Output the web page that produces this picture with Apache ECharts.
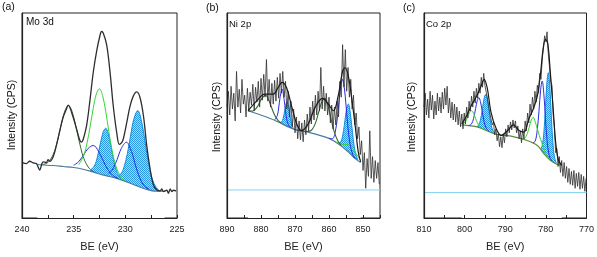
<!DOCTYPE html>
<html><head><meta charset="utf-8">
<script src="https://cdn.jsdelivr.net/npm/echarts@6/dist/echarts.min.js"></script>
<style>html,body{margin:0;padding:0;background:#fff}#chart{width:597px;height:257px}</style>
</head><body><div id="chart"></div>
<script>
// ---------- text ----------
const panelLetters = ['(a)', '(b)', '(c)'];
const panelTitles = ['Mo 3d', 'Ni 2p', 'Co 2p'];
const xTitle = 'BE (eV)';
const yTitle = 'Intensity (CPS)';
const moTicks = [240, 235, 230, 225];
const niTicks = [890, 880, 870, 860, 850];
const coTicks = [810, 800, 790, 780, 770];

// ---------- (a) Mo 3d ----------
const moDataBE = [239.97,239.58,239.26,238.93,238.61,238.45,238.28,238.12,237.96,237.64,237.48,237.31,236.99,236.67,236.34,236.02,235.7,235.53,235.37,235.05,234.72,234.4,234.24,234.08,233.75,233.43,233.11,232.78,232.46,232.3,232.14,231.81,231.49,231.17,230.84,230.58,230.36,230.19,229.87,229.55,229.22,228.9,228.58,228.25,227.93,227.61,227.28,226.96,226.63,226.47,226.31,225.99,225.83,225.66,225.5,225.34,225.08];
const moDataCPS = [56,55,57.3,55.7,55,51.7,48.3,53.3,56.7,56,59,57.3,61.7,73.3,88.3,101.7,110,114,111.7,101.7,90,78.3,76.7,79.3,93.3,118.3,146.7,168.3,184,188.3,186.7,175,148.3,113.3,86.7,74.3,76,80,96,112.7,123.3,127.3,121.7,103.3,73.3,50,33.3,28.3,27.3,29.3,26.7,28,25,29.3,26.7,28,27.3];
const moBgBE = [238.5,238,237,236,235,234,233,232,231,230,229,228,227,226.5,226.2];
const moBgCPS = [54,53.5,53,52,51,49,46,43,40.5,37,33,29,27,27,27];
const moGreen1BE = [238,237.5,237,236.7,236.4,236.1,235.8,235.5,235.2,234.9,234.6,234.3,234,233.5,233];
const moGreen1CPS = [54,56,63.7,72.6,85.3,98.9,109.6,113.5,109,97.7,83.6,70.2,59.7,50.2,46.5];
const moGreen2BE = [234.5,234,233.7,233.4,233.1,232.8,232.5,232.2,231.9,231.6,231.3,231,230.5,230];
const moGreen2CPS = [53.8,63.8,76,92.7,111.3,125.4,130.5,123.6,107.8,87.5,69,55.3,42.6,37.6];
const moBlue1BE = [235,234.5,234,233.6,233.1,232.6,232.2,231.7,231.2,230.7];
const moBlue1CPS = [53.2,57,64.4,70.2,73.3,67.5,59,49,42.9,40];
const moBlue2BE = [231.6,231.2,230.8,230.4,229.9,229.4,229,228.6,228.2,227.7];
const moBlue2CPS = [44.8,49.6,58.9,70,76.6,67,52.5,40.4,32.8,29];
const moCyan1BE = [233.4,233,232.7,232.4,232.15,231.9,231.65,231.4,231.1,230.8,230.4];
const moCyan1CPS = [48.1,52.5,61.8,76,86.7,90.7,85.3,73,57,45.9,39.4];
const moCyan2BE = [230.6,230.2,229.8,229.5,229.2,228.8,228.4,228.1,227.8,227.4,227,226.6];
const moCyan2CPS = [42.3,49.2,65.2,82.6,99,108.5,96,77.4,58,39.5,30.6,27];

// ---------- (b) Ni 2p ----------
const niStartBE = 890, niStepBE = -0.4; // measurement energy grid
const niDataCPS = [112,128,104,133,110,126,98,148,112,130,106,140,115,124,102,131,109,127,114,135,108,132,117,138,112,141,119,145,122,160,118,140,112,136,115,139,118,142,121,146,126,148,122,138,110,128,102,118,92,110,86,102,80,98,79,96,77,99,84,105,88,112,95,118,99,124,104,128,108,152,110,133,108,126,104,122,96,114,90,112,94,118,102,138,122,175,132,170,128,152,122,140,110,124,94,106,80,92,64,78,48,66,30,60,42,88,40,62,36,58,40,56,34];
const niFitBE = [883.8,881.3,878.9,876.4,875,873.8,872.5,871,869.5,868.1,866.1,864.1,861.9,860.2,858.7,857.3,856,855.3,854.3,853.3,852.3,851.4,850.7];
const niFitCPS = [108.3,118,125,125,131.7,137,131.7,113,95,88.3,95,111.7,120.7,115,108.3,123.3,148.3,151.7,143.3,120,93.3,66.7,56.7];
const niBgBE = [883.8,876.9,870,866.1,860.2,857.3,854.3,852.3,850.7];
const niBgCPS = [108.3,100,89.3,86.7,80.7,75,66.7,60,56];
const niGreen1BE = [883.8,883,882,881,880,879,878.7,878,877,876,875,874];
const niGreen1CPS = [108.4,107.9,108.7,112.7,119.5,123.6,124.1,121.3,112.6,103.9,98.6,95.8];
const niGreen2BE = [867,866,865,864,863,862,861.3,860.5,859.5,858.5,857.5,856.5];
const niGreen2CPS = [87.4,87.5,89.3,95.6,107.3,118.3,120.8,115.7,101.6,87.4,78.6,73.5];
const niGreen3BE = [858,857,856,855,854,853,852,851,850.7];
const niGreen3CPS = [76.8,75.3,74.4,74.3,73.6,70,64.8,59.8,58.4];
const niBlue1BE = [876,875.2,874.8,874.4,873.8,873.2,872.8,872.4,871.8,871.2];
const niBlue1CPS = [99.1,103.5,111.1,121.5,130.2,119.7,108.1,99.1,93.1,91.3];
const niBlue2BE = [860,859,858.2,857.5,857,856.5,856,855.5,855,854.5,853.8,853,852.3];
const niBlue2CPS = [80.6,80,86.1,102.5,119.6,134.7,140,131.9,114,94.3,74.2,64,60];
const niCyan1BE = [874.6,874,873.5,873,872.6,872.3,872,871.6,871.1,870.6,870.2];
const niCyan1CPS = [96.4,96.8,100.3,108.8,115.7,117.3,114.7,106.6,96.6,91.5,89.6];
const niCyan2BE = [857.2,856.5,856,855.5,855,854.6,854.3,854,853.6,853.1,852.6,852.1,851.5];
const niCyan2CPS = [75.8,77.1,82.8,93.5,106.4,113.7,115,112.1,102.4,86.4,72.4,63.9,58.8];
const niRefBE = [890, 845];
const niRefCPS = [28.3, 28.3];

// ---------- (c) Co 2p ----------
const coStartBE = 810, coStepBE = -0.3; // measurement energy grid
const coDataCPS = [112,126,104,120,101,128,109,124,100,118,104,126,108,122,106,127,110,131,114,133,106,121,101,117,99,115,97,112,94,108,92,105,90,106,95,112,101,118,108,123,112,128,116,131,121,136,126,142,132,146,134,133,121,122,106,108,94,97,84,90,78,85,72,82,71,85,76,90,82,94,86,97,89,99,91,98,86,93,80,88,76,90,80,98,88,106,96,115,104,122,110,128,117,134,126,146,140,160,158,184,178,188,166,164,138,134,104,92,66,70,52,62,46,58,42,56,40,52,36,50,34,47,33,48,30,45,32,46,29,44,30,42,27,40];
const coFitBE = [800.7,799.5,798.3,797.1,796,795.2,794.4,793.5,792.2,791,789.4,788,786.6,785.4,784.2,783.1,782.1,781.3,780.7,780.1,779.5,778.9,778.2,777.6,776.9,776.1];
const coFitCPS = [95,103.3,114,122.7,132.7,140,130.7,106.7,90,83.3,88.3,94,88.3,86.7,100,110,123.3,146.7,170,180.7,175,146.7,110,76.7,58.3,53.3];
const coBgBE = [800.7,796.7,792.6,788.6,784.6,782.1,780.5,778.9,777.3,776.1];
const coBgCPS = [94,91.7,85,82.7,78.3,73.3,65,58.3,54.3,53.3];
const coGreen1BE = [800.7,800,799.5,799,798.6,798.3,798,797.6,797.1,796.6,796,795.4];
const coGreen1CPS = [94,96.2,99.7,104.6,107.7,108.3,107.3,103.8,98.3,94.1,91.2,89.6];
const coGreen2BE = [785.8,785.2,784.6,784.1,783.6,783.1,782.6,782.1,781.6,781,780.4,779.8,779];
const coGreen2CPS = [79.9,80.6,84.9,91.5,98.9,101.7,96.7,90,83,76,69,63,59];
const coBlue1BE = [799,798.3,797.8,797.3,796.9,796.5,796.1,795.7,795.2,794.7,794];
const coBlue1CPS = [93.2,95,100.4,110.4,118.4,121.7,117.5,108.5,97.3,90.8,87.5];
const coBlue2BE = [783.2,782.6,782.1,781.7,781.3,780.9,780.5,780.1,779.7,779.2,778.6];
const coBlue2CPS = [75.8,77.8,89.7,107.7,129.1,138.3,125.4,100.4,78.1,63.3,57.7];
const coCyan1BE = [797.2,796.6,796.1,795.6,795.2,794.8,794.4,794,793.5,793,792.4];
const coCyan1CPS = [92.1,93.5,98.9,110.5,120.8,125,119.5,107.9,94.6,87.7,85.1];
const coCyan2BE = [781.4,780.9,780.5,780.1,779.75,779.4,779.05,778.7,778.3,777.9,777.4];
const coCyan2CPS = [68.6,73.1,85.7,111.8,136.5,146.7,133.6,106,77.2,61.6,55.3];
const coRefBE = [810, 770];
const coRefCPS = [25.7, 25.7];

// ---------- helpers ----------
const zip = (xs, ys) => ys.map((y, i) => [xs[i], y]);
const grid = (start, step, ys) => ys.map((y, i) => [+(start + step * i).toFixed(2), y]);

const pat = document.createElement('canvas');
pat.width = 2; pat.height = 2;
const pc = pat.getContext('2d');
pc.fillStyle = '#a6d9f6'; pc.fillRect(0, 0, 2, 2);
pc.fillStyle = '#2a97e2'; pc.fillRect(0, 0, 1, 1); pc.fillRect(1, 1, 1, 1);

const FONT = 'Liberation Sans, Arial, Helvetica, sans-serif';
const C = {
  data: '#2e2e2e', fit: '#1a1a1a', bg: '#4b7b9e', green: '#33d633', dkgreen: '#356b35',
  blue: '#2a2ae6', cyan: '#0f8ee0', ref: '#86d2ef', axis: '#222222'
};

function line(idx, data, color, width, z, extra) {
  return Object.assign({
    type: 'line', xAxisIndex: idx, yAxisIndex: idx, data: data, symbol: 'none',
    smooth: false, z: z, silent: true, animation: false,
    lineStyle: { color: color, width: width }
  }, extra || {});
}
function smoothLine(idx, data, color, width, z) {
  return line(idx, data, color, width, z, { smooth: 0.35 });
}
function fill(idx, data) {
  return line(idx, data, C.cyan, 1, 1, {
    smooth: 0.35,
    areaStyle: { color: { image: pat, repeat: 'repeat' }, opacity: 1 }
  });
}
function mask(idx, data) {
  return line(idx, data, '#ffffff', 0, 2, {
    smooth: 0.3, areaStyle: { color: '#ffffff', opacity: 1 }
  });
}

const grids = [
  { left: 22, top: 13, width: 155, height: 207 },
  { left: 227, top: 13, width: 153, height: 207 },
  { left: 424, top: 13, width: 164, height: 207 }
].map(g => Object.assign(g, { show: true, borderColor: C.axis, borderWidth: 1, containLabel: false }));

const xSpec = [
  { min: 225, max: 240, interval: 2.5, ticks: moTicks },
  { min: 845, max: 890, interval: 5, ticks: niTicks },
  { min: 770, max: 810, interval: 5, ticks: coTicks }
];
const xAxes = xSpec.map((s, i) => ({
  gridIndex: i, type: 'value', min: s.min, max: s.max, interval: s.interval, inverse: true, z: 10,
  axisLine: { show: true, lineStyle: { color: C.axis, width: 1 } },
  axisTick: { show: true, inside: true, length: 3, lineStyle: { color: C.axis } },
  axisLabel: { margin: 7, fontSize: 9, color: '#222', fontFamily: FONT,
    formatter: v => (s.ticks.indexOf(v) >= 0 ? String(v) : '') },
  splitLine: { show: false },
  name: xTitle, nameLocation: 'middle', nameGap: 23,
  nameTextStyle: { fontSize: 11, color: '#222', fontFamily: FONT }
}));
const yAxes = [0, 1, 2].map(i => ({
  gridIndex: i, type: 'value', min: 0, max: 207, z: 10,
  axisLine: { show: true, lineStyle: { color: C.axis, width: 1.2 } },
  axisTick: { show: false }, axisLabel: { show: false }, splitLine: { show: false }
}));

const series = [
  // (a)
  fill(0, zip(moCyan1BE, moCyan1CPS)),
  fill(0, zip(moCyan2BE, moCyan2CPS)),
  mask(0, zip(moBgBE, moBgCPS)),
  smoothLine(0, zip(moBgBE, moBgCPS), C.bg, 1.2, 3),
  smoothLine(0, zip(moBlue1BE, moBlue1CPS), C.blue, 1, 3),
  smoothLine(0, zip(moBlue2BE, moBlue2CPS), C.blue, 1, 3),
  smoothLine(0, zip(moGreen1BE, moGreen1CPS), C.dkgreen, 1, 3),
  smoothLine(0, zip(moGreen2BE, moGreen2CPS), C.green, 1, 3),
  smoothLine(0, zip(moDataBE, moDataCPS), C.data, 1.3, 5),
  // (b)
  fill(1, zip(niCyan1BE, niCyan1CPS)),
  fill(1, zip(niCyan2BE, niCyan2CPS)),
  mask(1, zip(niBgBE, niBgCPS)),
  line(1, zip(niRefBE, niRefCPS), C.ref, 1, 3),
  smoothLine(1, zip(niBgBE, niBgCPS), C.bg, 1.2, 3),
  smoothLine(1, zip(niGreen3BE, niGreen3CPS), C.green, 1, 3),
  smoothLine(1, zip(niBlue1BE, niBlue1CPS), C.blue, 1, 3),
  smoothLine(1, zip(niBlue2BE, niBlue2CPS), C.blue, 1, 3),
  smoothLine(1, zip(niGreen1BE, niGreen1CPS), C.dkgreen, 1.1, 3),
  smoothLine(1, zip(niGreen2BE, niGreen2CPS), C.dkgreen, 1.1, 3),
  line(1, grid(niStartBE, niStepBE, niDataCPS), C.data, 0.8, 4),
  smoothLine(1, zip(niFitBE, niFitCPS), C.fit, 1.2, 5),
  // (c)
  fill(2, zip(coCyan1BE, coCyan1CPS)),
  fill(2, zip(coCyan2BE, coCyan2CPS)),
  mask(2, zip(coBgBE, coBgCPS)),
  line(2, zip(coRefBE, coRefCPS), C.ref, 1, 3),
  smoothLine(2, zip(coBgBE, coBgCPS), '#5e8a3a', 1.2, 3),
  smoothLine(2, zip(coBlue1BE, coBlue1CPS), C.blue, 1, 3),
  smoothLine(2, zip(coBlue2BE, coBlue2CPS), C.blue, 1, 3),
  smoothLine(2, zip(coGreen1BE, coGreen1CPS), C.green, 1, 3),
  smoothLine(2, zip(coGreen2BE, coGreen2CPS), C.green, 1, 3),
  line(2, grid(coStartBE, coStepBE, coDataCPS), C.data, 0.8, 4),
  smoothLine(2, zip(coFitBE, coFitCPS), C.fit, 1.2, 5)
];

const txt = (x, y, text, size, extra) => Object.assign({
  type: 'text', x: x, y: y, silent: true, z: 20,
  style: { text: text, font: size + 'px ' + FONT, fill: '#111', textAlign: 'left', textVerticalAlign: 'top',
           align: 'left', verticalAlign: 'top' }
}, extra || {});
const vtxt = (x, y) => ({
  type: 'text', x: x, y: y, rotation: Math.PI / 2, silent: true, z: 20,
  style: { text: yTitle, font: '10.5px ' + FONT, fill: '#111', textAlign: 'center', textVerticalAlign: 'middle',
           align: 'center', verticalAlign: 'middle' }
});
const graphic = [
  txt(2, 2, panelLetters[0], 10.5), txt(206, 3, panelLetters[1], 10.5), txt(403, 3, panelLetters[2], 10.5),
  txt(26, 17, panelTitles[0], 10), txt(229, 19, panelTitles[1], 9.5), txt(426, 19, panelTitles[2], 9.5),
  vtxt(12, 115), vtxt(217, 117), vtxt(412.5, 117)
];

const chart = echarts.init(document.getElementById('chart'), null, { renderer: 'canvas' });
chart.setOption({
  animation: false,
  backgroundColor: '#fff',
  grid: grids, xAxis: xAxes, yAxis: yAxes, series: series, graphic: graphic
});
</script></body></html>
